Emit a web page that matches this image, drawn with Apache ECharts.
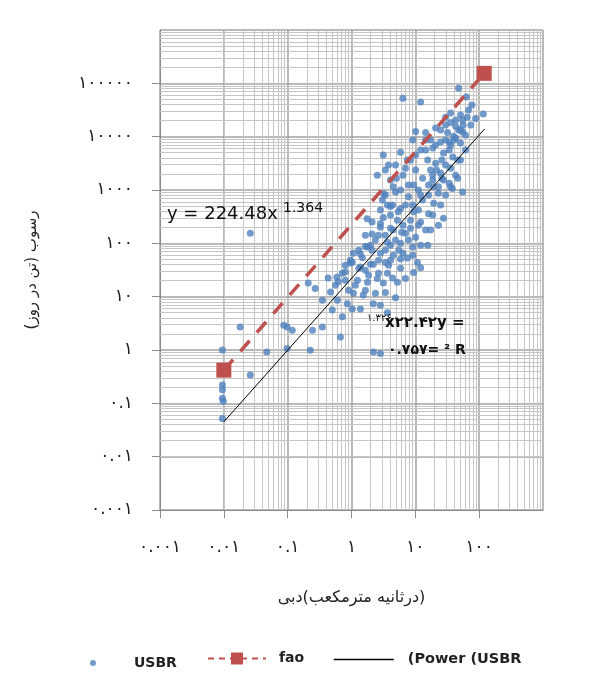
<!DOCTYPE html>
<html><head><meta charset="utf-8">
<script src="https://cdn.jsdelivr.net/npm/echarts@6/dist/echarts.min.js"></script>
<style>html,body{margin:0;padding:0;background:#fff}#c{width:589px;height:692px}</style>
</head><body><div id="c"></div>
<script>
// USBR observations [discharge m3/s, sediment t/day]
const usbr = [
[47.6,81000],[63,55300],[77,39200],[116,26700],[6.4,52300],[12.1,44900],[29.8,23100],[51,25500],[65,23100],[35.7,27700],
[42.8,20500],[55,20500],[10.1,12500],[14.5,12000],[35.7,18400],[42.8,15700],[51,13300],[32,12000],[39.5,10200],[24.9,7950],
[35.7,6960],[51,7580],[18.7,6100],[27.6,4920],[38.6,4150],[3.15,4520],[5.86,5090],[7.5,3640],[15.6,3640],[20.8,3190],
[29.8,2930],[10.1,2360],[17.3,2360],[24.9,2080],[35.7,2560],[2.54,1900],[6.4,1900],[13,1660],[18.7,1535],[27.6,1535],
[4.5,1145],[9.4,1237],[23,1145],[46,1660],[38,1070],[55,920],[42.8,9500],[61,5610],[46.5,3640],[34,1340],
[26,1660],[56,16300],[29.8,16500],[47.6,13300],[34,7950],
[18.7,1900],[35.7,1145],[23,870],[4.89,920],[7.8,745],[13,646],[19.4,565],[3.65,521],[5.86,450],[9.4,390],
[16.1,360],[3.15,305],[5.25,272],[8.4,272],[11.2,219],[14.5,177],[2.84,200],[4.5,177],[7.0,155],[10.1,130],
[2.37,115],[3.65,105],[5.86,100],[9.1,85],[1.78,85],[2.84,65],[4.5,60],[7.5,53],[10.8,43.5],[1.48,53.5],
[2.2,40.5],[3.8,39],[5.86,34],[9.4,28.5],[1.65,31.4],[2.65,27.5],[4.4,22.5],[7.0,21.8],[12.1,35],[15.6,92.5],
[1.07,65],[17.3,177],[23,219],[27.6,295],[6.4,65],[4.08,48.4],[1.76,290],
[0.21,18],[0.27,14.3],[0.43,22.5],[0.72,27.5],[0.96,48.4],[1.38,36],[1.98,40.5],[2.65,48.4],[1.24,20.4],[1.78,18.7],
[2.54,21.8],[3.65,27.5],[5.25,18.7],[1.07,11.6],[1.53,10.7],[2.37,11.6],[3.4,12],[4.89,9.5],[0.6,8.6],[0.86,7.4],
[1.38,5.9],[2.2,7.4],[2.84,6.9],[0.5,5.6],[0.72,4.2],[1.03,5.9],[0.35,2.7],[0.245,2.35],[0.67,1.75],[0.226,0.99],
[0.098,2.7],[0.118,2.35],[3.65,5.0],[2.2,0.92],[2.84,0.86],
[0.026,155],[0.018,2.7],[0.087,2.9],[0.047,0.92],[0.098,1.07],[0.0095,1.0],[0.026,0.34],[0.0095,0.22],[0.0095,0.18],[0.0095,0.125],
[0.0098,0.11],[0.0095,0.052],[0.8,39],[0.56,16.4],[0.9,13.2],[0.59,23],[0.96,43],[1.38,63],[1.65,87],[2.1,150],
[2.84,235],[4.08,490],[3.2,850],
[3.4,2360],[4.89,2930],[8.4,3640],[12.1,5610],[17.3,8630],[14.5,5610],[20.8,6960],[9.1,8630],[24.9,13300],[29.8,8630],
[4.08,1535],[5.86,996],[11.2,996],[16.1,802],[29.8,802],[3.4,802],[7.0,521],[11.2,420],[4.08,338],[6.4,219],
[3.4,142],[4.89,115],[7.8,115],[12.1,92.5],[2.1,74.5],[3.4,74.5],[5.5,74.5],[1.3,34],[1.85,25.3],[3.15,18],
[1.15,16.4],[0.8,20.4],[1.65,13.2],[19.4,1145],[42.8,1900],[51,3640],[61,10700],[74,16500],[88,22000],
[3.05,646],[4.4,521],[5.4,390],[9.1,521],[12.1,802],[16.1,1237],[21.5,2360],[26,3640],[34,5610],[41,8630],
[55,12200],[68,31600],[7.8,1237],[5.05,1660],[3.8,2930],[7.0,2560],[10.1,4520],[14.5,8630],[20.8,14500],[2.84,420],
[2.1,250],[2.65,142],[4.08,192],[6.1,162],[8.4,192],[12.1,250],[18.7,338],[24.9,521],[1.65,142],[1.98,92.5],
[1.3,74.5],[1.03,44],[0.8,29],[0.62,19],[0.47,12.2],[0.35,8.6],[5.86,51],[9.1,60],[3.4,43.5],[4.08,92.5]
];
const fao = [[0.01,0.42],[120,153900]];
const powerUsbr = [[0.01,0.045],[122,14000]];
const xTickLabels = ['۰.۰۰۱','۰.۰۱','۰.۱','۱','۱۰','۱۰۰',''];
const yTickLabels = ['۰.۰۰۱','۰.۰۱','۰.۱','۱','۱۰','۱۰۰','۱۰۰۰','۱۰۰۰۰','۱۰۰۰۰۰',''];
// x-axis title words, shown left to right as in the original
const xNameWords = ['دبی', '(', 'مترمکعب', ' ', 'درثانیه', ')'];
const yName = 'رسوب (تن در روز)\u200F';

const FA = 'DejaVu Sans';
const minorX = [], minorY = [];
for (let e = -3; e <= 2; e++) for (let k = 2; k <= 9; k++) minorX.push({xAxis: k * Math.pow(10, e)});
for (let e = -3; e <= 5; e++) for (let k = 2; k <= 9; k++) minorY.push({yAxis: k * Math.pow(10, e)});

const axisCommon = {
  type: 'log', logBase: 10,
  axisLine: {show: true, lineStyle: {color: '#8a8a8a', width: 1}},
  axisTick: {show: true, inside: false, length: 8, lineStyle: {color: '#8a8a8a'}},
  splitLine: {show: true, lineStyle: {color: '#a2a2a2', width: 1.5}},
  minorTick: {show: false}, minorSplitLine: {show: false}
};

const chart = echarts.init(document.getElementById('c'), null, {renderer: 'canvas'});
chart.setOption({
  animation: false,
  backgroundColor: '#fff',
  grid: {left: 160, top: 30, right: 46, bottom: 182, containLabel: false},
  xAxis: Object.assign({}, axisCommon, {
    min: 0.001, max: 1000,
    name: xNameWords.map(w => '{w|' + w + '}').join(''), nameLocation: 'middle', nameGap: 80,
    nameTextStyle: {fontFamily: FA, fontSize: 16, color: '#222',
      rich: {w: {fontFamily: FA, fontSize: 16, color: '#222'}}},
    axisLabel: {margin: 29, fontFamily: FA, fontSize: 17, color: '#222', showMaxLabel: false,
      formatter: v => xTickLabels[Math.round(Math.log10(v)) + 3] || ''}
  }),
  yAxis: Object.assign({}, axisCommon, {
    min: 0.001, max: 1000000,
    name: yName, nameLocation: 'middle', nameGap: 120, nameRotate: 90,
    nameTextStyle: {fontFamily: FA, fontSize: 15, color: '#222'},
    axisLabel: {margin: 27, fontFamily: FA, fontSize: 17, color: '#222', showMaxLabel: false,
      formatter: v => yTickLabels[Math.round(Math.log10(v)) + 3] || ''}
  }),
  legend: [
    {data: ['USBR'], left: 90, top: 656, padding: 0, itemWidth: 72, itemHeight: 6,
     textStyle: {fontFamily: FA, fontSize: 14, fontWeight: 'bold', color: '#222'}},
    {data: ['fao'], left: 207, top: 651.5, padding: 0, itemWidth: 58, itemHeight: 15,
     lineStyle: {width: 2, type: [6, 5]},
     textStyle: {fontFamily: FA, fontSize: 14, fontWeight: 'bold', color: '#222', padding: [0, 0, 0, 8]}},
    {data: ['(Power (USBR'], left: 333, top: 652, padding: 0, itemWidth: 60, itemHeight: 14,
     itemStyle: {opacity: 0}, lineStyle: {width: 1.5},
     textStyle: {fontFamily: FA, fontSize: 14.5, fontWeight: 'bold', color: '#222', padding: [0, 0, 0, 9]}}
  ],
  series: [
    {type: 'line', name: 'grid-minor', data: [], z: 1, silent: true,
     markLine: {z: 1, silent: true, symbol: ['none', 'none'], label: {show: false}, animation: false,
       lineStyle: {type: 'solid', color: '#c6c6c6', width: 1}, emphasis: {disabled: true},
       data: minorX.concat(minorY)}},
    {type: 'scatter', name: 'USBR', data: usbr, symbol: 'circle', symbolSize: 7, z: 3,
     itemStyle: {color: '#4f81bd'}},
    {type: 'line', name: 'fao', data: fao, z: 4, symbol: 'rect', symbolSize: 15,
     itemStyle: {color: '#c0504d'}, lineStyle: {color: '#c0504d', width: 3.5, type: [14, 11]}},
    {type: 'line', name: '(Power (USBR', data: powerUsbr, z: 4, symbol: 'none',
     itemStyle: {color: '#000'}, lineStyle: {color: '#000', width: 1}}
  ],
  graphic: [
    {type: 'text', z: 10, x: 167, y: 214, style: {text: 'y = 224.48x', font: '18px "DejaVu Sans"', fill: '#111', verticalAlign: 'middle'}},
    {type: 'text', z: 10, x: 283, y: 208, style: {text: '1.364', font: '14px "DejaVu Sans"', fill: '#111', verticalAlign: 'middle'}},
    {type: 'text', z: 10, x: 367, y: 318, style: {text: '۱.۳۲۶', font: '10px "DejaVu Sans"', fill: '#111', verticalAlign: 'middle'}},
    {type: 'text', z: 10, x: 385, y: 323, style: {text: 'x۲۲.۴۲y =', font: 'bold 15px "DejaVu Sans"', fill: '#111', verticalAlign: 'middle'}},
    {type: 'text', z: 10, x: 388, y: 350, style: {text: '۰.۷۵۷= ² R', font: 'bold 14px "DejaVu Sans"', fill: '#111', verticalAlign: 'middle'}}
  ]
});
</script>
</body></html>
